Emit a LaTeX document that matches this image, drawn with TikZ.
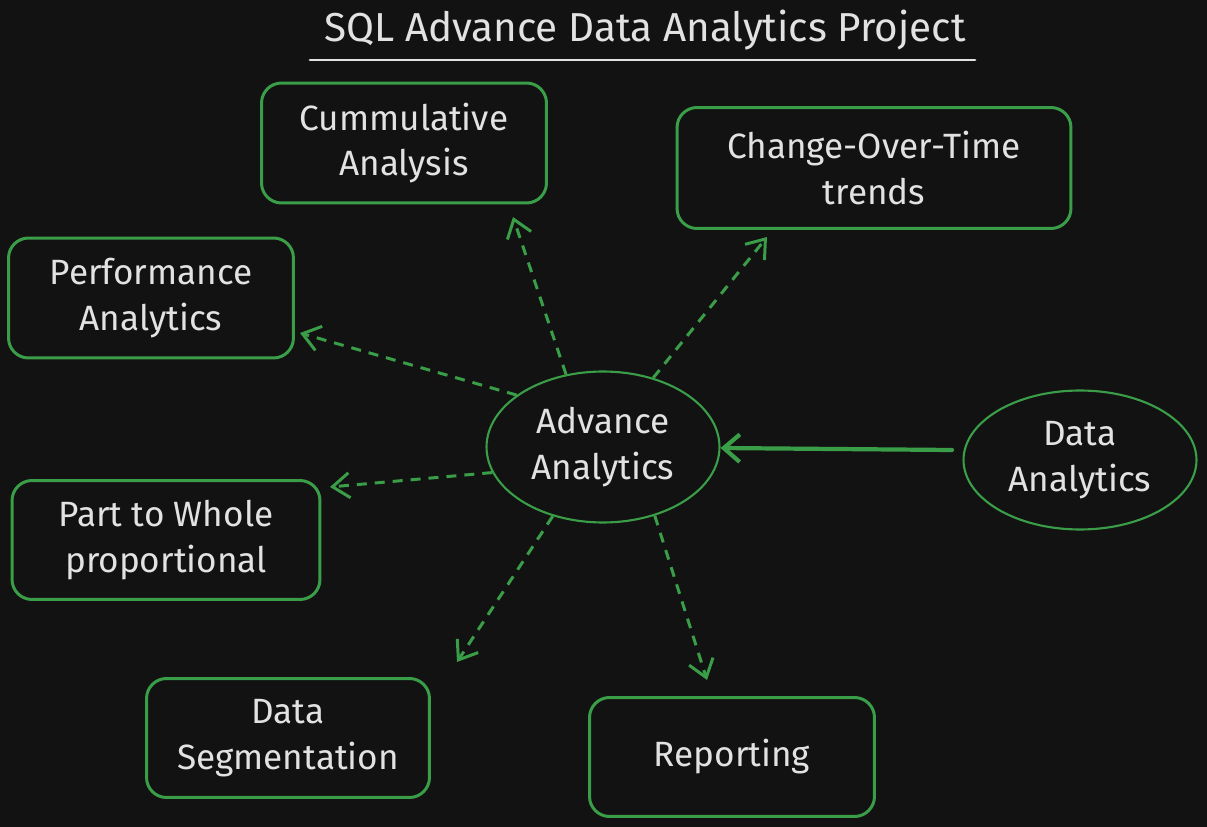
\documentclass[tikz,border=0pt]{standalone}
\usepackage{fontspec}
\setmainfont{Fira Sans}
\usetikzlibrary{shapes.geometric,arrows.meta}
\definecolor{bgdark}{HTML}{121212}
\definecolor{sketchgreen}{HTML}{3A9E48}
\definecolor{chalk}{HTML}{E2E2E2}
\tikzset{
	topic/.style={draw=sketchgreen,line width=1.7pt,rounded corners=0.4cm,text=chalk,align=center,inner sep=0pt},
	hub/.style={ellipse,draw=sketchgreen,line width=1.2pt,text=chalk,align=center,inner sep=0pt},
	link/.style={sketchgreen,line width=1.7pt,dash pattern=on 0.2cm off 0.16cm,-{Straight Barb[length=0.34cm,width=0.5cm]}}
}
\begin{document}
\begin{tikzpicture}[x=0.02cm,y=-0.02cm,font=\fontsize{20}{26}\selectfont]
				\fill[bgdark] (0,0) rectangle (1207,827);
				\useasboundingbox (0,0) rectangle (1207,827);
				
				% title
				\node[text=chalk,font=\fontsize{23}{28}\selectfont] (title) at (645,30){SQL Advance Data Analytics Project};
				\coordinate (U1) at (310,60);
				\coordinate (U2) at (975,60);
				\draw[chalk,line width=1.6pt,line cap=round] (U1) -- (U2);
				
				% hubs
				\node[hub,minimum width=4.66cm,minimum height=3.02cm] (adv) at (603,447){Advance\\Analytics};
				\node[hub,minimum width=4.66cm,minimum height=2.78cm] (data) at (1080,460){Data\\Analytics};
				
				% topics
				\node[topic,minimum width=5.7cm,minimum height=2.4cm] (cum) at (404,143){Cummulative\\Analysis};
				\node[topic,minimum width=7.88cm,minimum height=2.42cm] (chg) at (874,168){Change-Over-Time\\trends};
				\node[topic,minimum width=5.7cm,minimum height=2.4cm] (perf) at (151,298){Performance\\Analytics};
				\node[topic,minimum width=6.16cm,minimum height=2.38cm] (part) at (166,540){Part to Whole\\proportional};
				\node[topic,minimum width=5.66cm,minimum height=2.38cm] (seg) at (288,738){Data\\Segmentation};
				\node[topic,minimum width=5.7cm,minimum height=2.38cm] (rep) at (732,757){Reporting};
				
				% arrow ends
				\coordinate (toPerf) at (300,333);
				\coordinate (toCum) at (513,217);
				\coordinate (toChg) at (767,237);
				\coordinate (toPart) at (330,487);
				\coordinate (toSeg) at (457,662);
				\coordinate (toRep) at (707,680);
				\coordinate (fromData) at (952,450);
				
				\draw[link] (adv.149) -- (toPerf);
				\draw[link] (adv.117) -- (toCum);
				\draw[link] (adv.54) -- (toChg);
				\draw[link] (adv.193) -- (toPart);
				\draw[link] (adv.234) -- (toSeg);
				\draw[link] (adv.307) -- (toRep);
				\draw[sketchgreen,line width=2.4pt,line cap=round,-{Straight Barb[length=0.32cm,width=0.55cm]}] (fromData) -- (adv);
			\end{tikzpicture}
\end{document}
